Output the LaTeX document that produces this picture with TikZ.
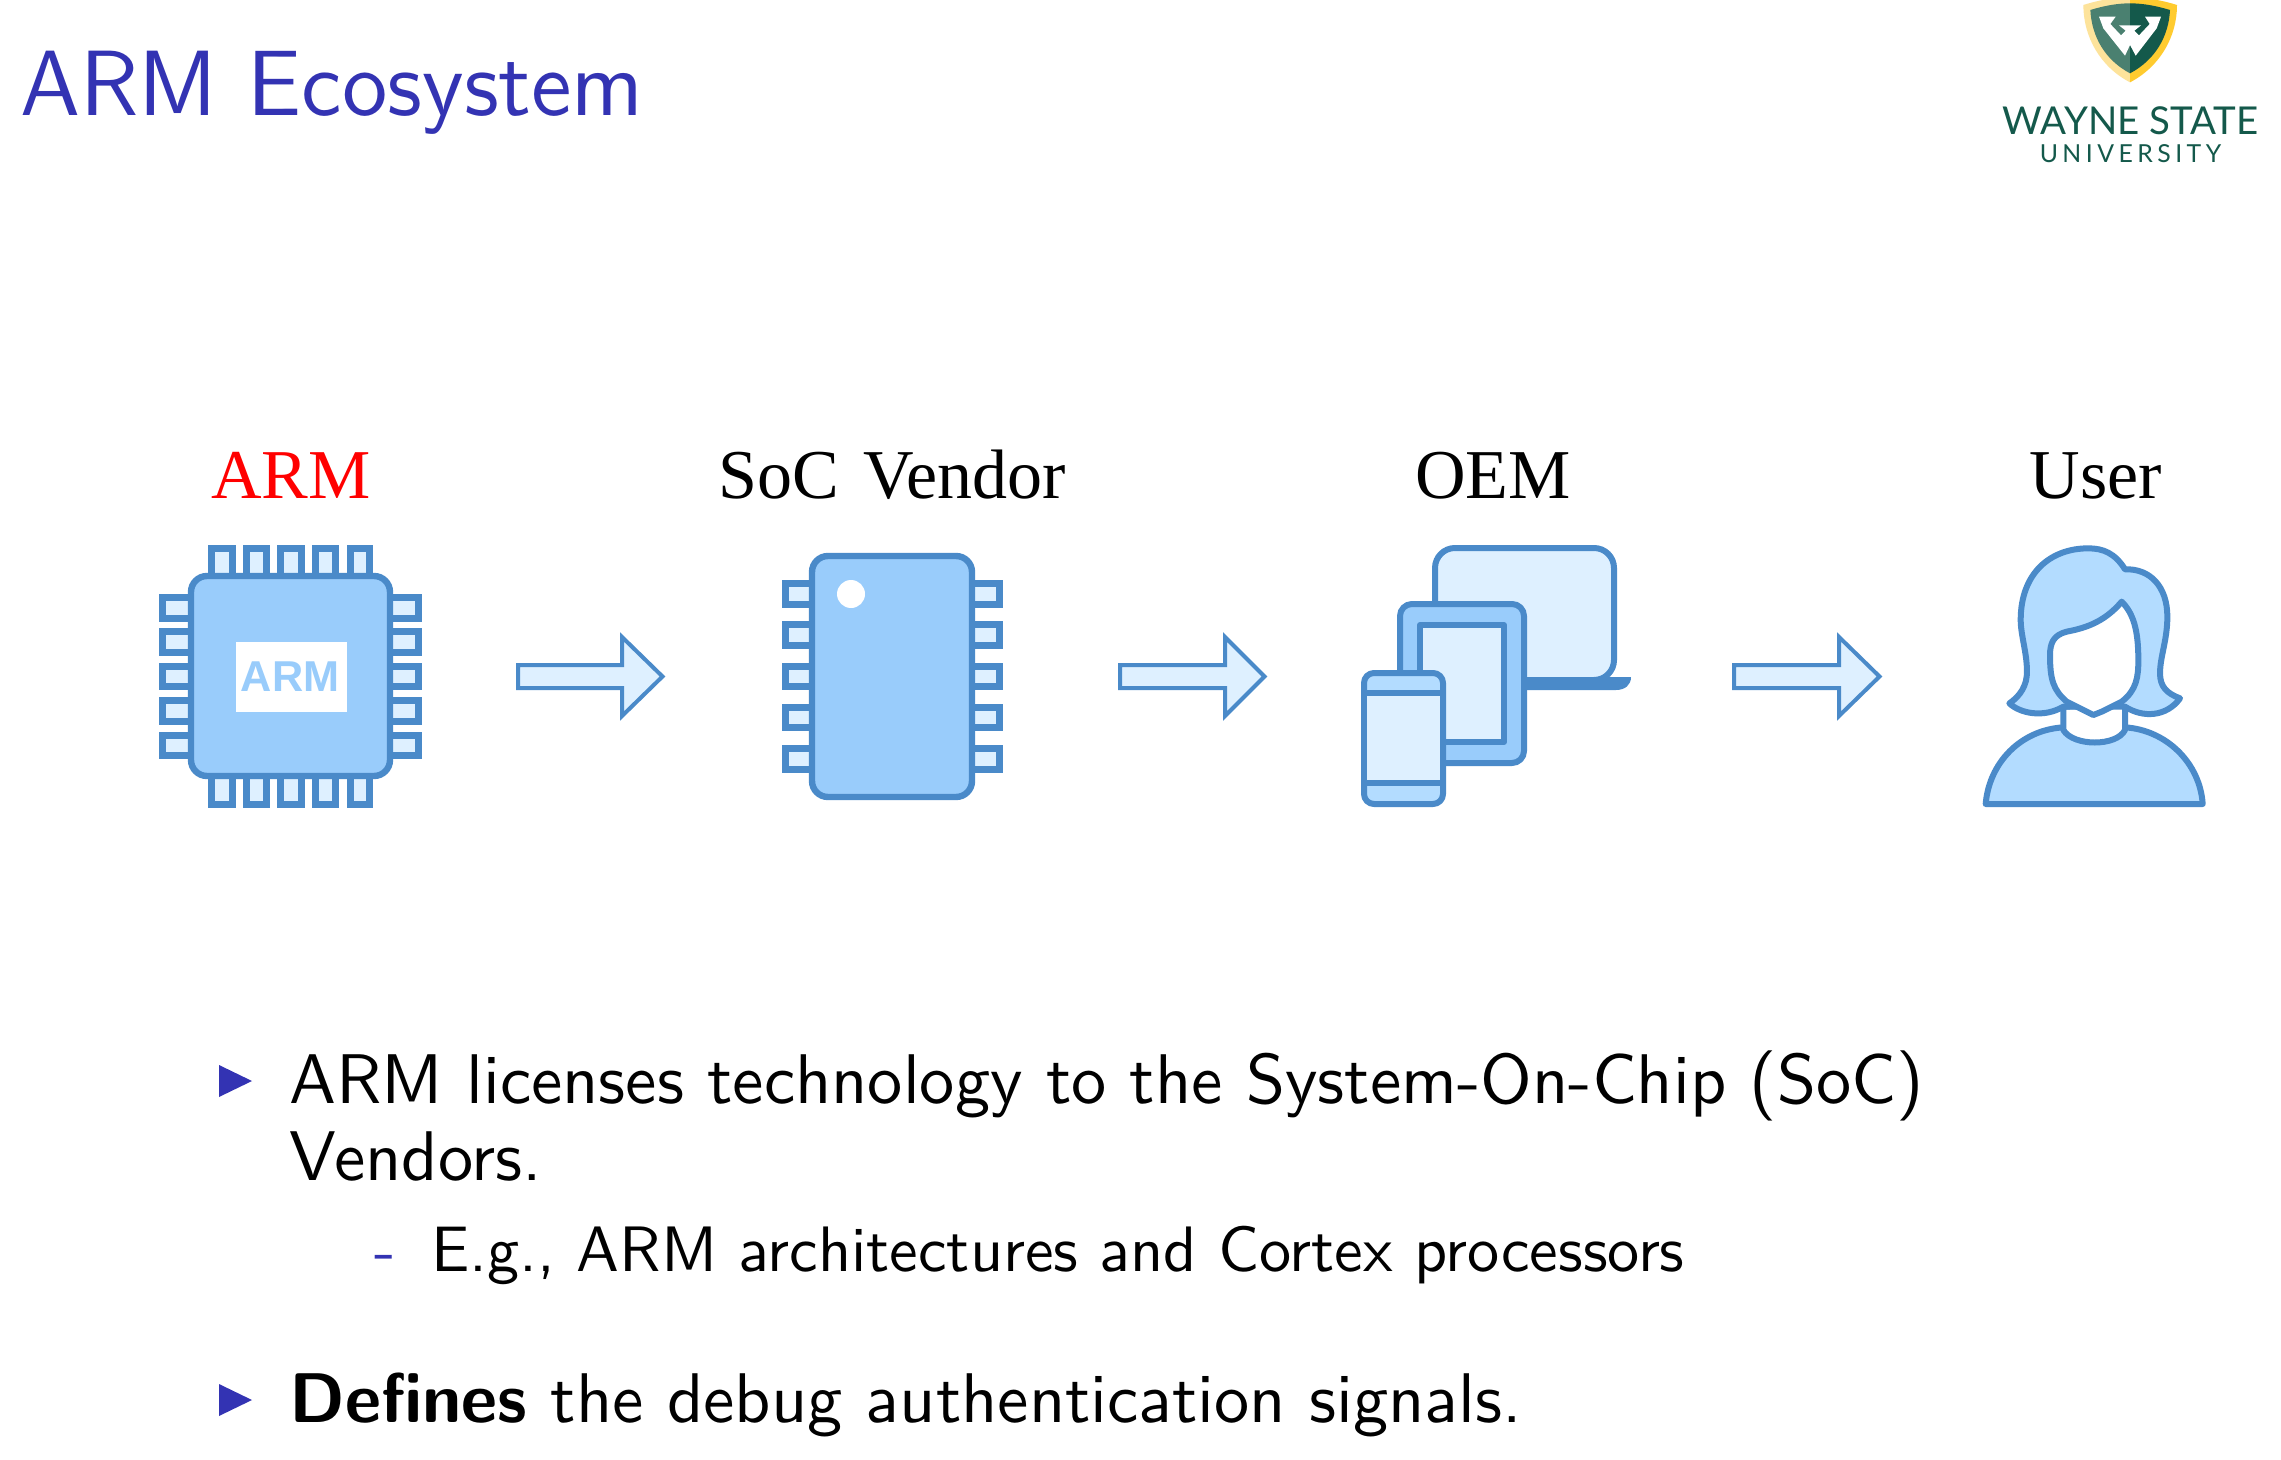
\documentclass[tikz,border=0pt]{standalone}
\usepackage{fontspec}
\newfontfamily\labelfont{Liberation Serif}
\newfontfamily\chipfont{Liberation Sans}
\newfontfamily\logofont{Lato}
\definecolor{beamerblue}{HTML}{3333B3}
\definecolor{iconline}{HTML}{4A8AC9}
\definecolor{iconfill}{HTML}{99CCFB}
\definecolor{iconlight}{HTML}{DEF0FF}
\definecolor{iconmid}{HTML}{B3DCFF}
\definecolor{wsugreen}{HTML}{14594B}
\definecolor{wsugreenl}{HTML}{4A8070}
\definecolor{wsugold}{HTML}{FFCB2F}
\definecolor{wsugoldl}{HTML}{FDE39B}
\newcommand{\bodytxt}[2]{\scalebox{#1}{\fontsize{10.95}{13}\selectfont\sffamily #2}}
\newcommand{\blockarrow}[3]{\draw[blockarrow] (#1,665) -- (#2,665) -- (#2,637) -- (#3,676.5) -- (#2,716) -- (#2,688) -- (#1,688) -- cycle;}
\newcommand{\pinbox}[4]{\draw[pinbox] ({#1+3.6},{#2+3.6}) rectangle ({#3-3.6},{#4-3.6});}
\newcommand{\bullettri}[1]{\fill[beamerblue] (219,{#1-16}) -- (252,{#1}) -- (219,{#1+16}) -- cycle;}
\tikzset{
  pinbox/.style={draw=iconline,fill=iconlight,line width=3.6pt},
  chipbody/.style={draw=iconline,fill=iconfill,line width=3.2pt,rounded corners=8pt},
  blockarrow/.style={draw=iconline,fill=iconlight,line width=2pt,line join=miter},
  iconpart/.style={draw=iconline,line width=3pt,line join=round},
  toptext/.style={anchor=base,inner sep=0pt,font=\labelfont\fontsize{35}{40}\selectfont},
  bodytext/.style={anchor=base west,inner sep=0pt},
}
\begin{document}
\begin{tikzpicture}[x=0.5pt,y=-0.5pt]
\useasboundingbox (0,0) rectangle (2281,1460);
\fill[white] (0,0) rectangle (2281,1460);
% title
\node[bodytext,text=beamerblue] (title) at (20,115.5) {\bodytxt{3.22}{\fontsize{14.4}{17}\selectfont ARM Ecosystem}};
% logo
\begin{scope}
\clip (1950,0) rectangle (2281,180);
\begin{scope}[shift={(1950,0)},x=0.16667pt,y=-0.16667pt]
  \fill[wsugoldl] (540,-8) .. controls (490,-8) and (440,2) .. (400,15) .. controls (400,110) and (450,200) .. (540,247) -- cycle;
  \fill[wsugold] (540,-8) .. controls (590,-8) and (640,2) .. (681,15) .. controls (681,110) and (630,200) .. (540,247) -- cycle;
  \fill[wsugreenl] (540,10) .. controls (500,10) and (460,18) .. (421,30) .. controls (425,110) and (465,180) .. (540,220) -- cycle;
  \fill[wsugreen] (540,10) .. controls (580,10) and (620,18) .. (660,30) .. controls (656,110) and (615,180) .. (540,220) -- cycle;
  \fill[white] (447,50) -- (497,50) -- (481,72) -- (513,106) -- (527,92) -- (507,76) -- (573,76) -- (553,92) -- (567,106) -- (599,72) -- (585,50) -- (633,50) -- (620,85) -- (557,167) -- (540,135) -- (525,167) -- (460,85) -- cycle;
\end{scope}
\end{scope}
\node[anchor=base,inner sep=0pt,text=wsugreen] (wsu) at (2130.5,134.5) {\logofont\fontsize{19.2}{21}\selectfont WAYNE STATE};
\node[anchor=base,inner sep=0pt,text=wsugreen] (univ) at (2130.5,162.5) {\logofont\addfontfeature{LetterSpace=18}\fontsize{12.4}{14}\selectfont UNIVERSITY};
% labels
\node[toptext,text=red] (lbarm) at (291,498.5) {ARM};
\node[toptext] (lbsoc) at (892,498.5) {SoC\hspace{3.5pt} Vendor};
\node[toptext] (lboem) at (1493,498.5) {OEM};
\node[toptext] (lbuser) at (2096,498.5) {User};
% ARM chip
\foreach \a/\b in {208/236,243/270,277/305,312/339,347/373}{
  \pinbox{\a}{545}{\b}{582}
  \pinbox{\a}{770}{\b}{808}
}
\foreach \a/\b in {594/622,628/656,663/690,697/725,732/759}{
  \pinbox{159}{\a}{197}{\b}
  \pinbox{384}{\a}{422}{\b}
}
\draw[chipbody] (191,576) rectangle (390,776);
\fill[white] (236,642) rectangle (347,712);
\node[anchor=center,inner sep=0pt,text=iconfill] (chiparm) at (290,677) {\chipfont\bfseries\fontsize{21.6}{25}\selectfont ARM};
\blockarrow{518}{622}{662.5}
% SoC chip
\foreach \a/\b in {580/608,621/649,663/690,704/731,745/773}{
  \pinbox{782}{\a}{818}{\b}
  \pinbox{966}{\a}{1003}{\b}
}
\draw[chipbody] (812,556) rectangle (972,797);
\fill[white] (851,594) circle[radius=14];
\blockarrow{1120}{1225}{1264.5}
% OEM devices
\fill[iconline] (1525,677) -- (1631,677) .. controls (1631,685) and (1625,690) .. (1616,690) -- (1525,690) -- cycle;
\draw[iconpart,fill=iconlight,rounded corners=10pt] (1435,680) -- (1435,548) -- (1614,548) -- (1614,680) -- cycle;
\fill[iconline] (1525,677) rectangle (1620,683);
\draw[iconpart,fill=iconfill,rounded corners=6pt] (1400,604) rectangle (1524,763);
\draw[iconpart,fill=iconlight] (1420,625) rectangle (1504,742);
\draw[iconpart,fill=iconmid,rounded corners=5pt] (1364,673) rectangle (1443,804);
\draw[iconpart,fill=iconlight] (1364,693) rectangle (1443,783);
\blockarrow{1734}{1839}{1879.5}
% user
\begin{scope}[shift={(1720,530)},x=0.16667pt,y=-0.16667pt]
  \draw[iconpart,fill=iconmid] (797,822) .. controls (807,700) and (900,600) .. (1030,592) .. controls (1060,650) and (1190,650) .. (1215,592) .. controls (1340,600) and (1440,700) .. (1448,822) -- cycle;
  \draw[iconpart,fill=white] (1030,530) -- (1030,600) .. controls (1060,650) and (1190,650) .. (1215,600) -- (1215,525) -- cycle;
  \draw[iconpart,fill=iconmid] (1215,118) .. controls (1185,70) and (1150,55) .. (1105,55) .. controls (990,55) and (902,130) .. (902,270) .. controls (902,320) and (925,380) .. (920,440) .. controls (915,480) and (890,505) .. (868,520) .. controls (900,550) and (970,565) .. (1030,530) -- (1215,530) .. controls (1270,565) and (1340,560) .. (1380,505) .. controls (1340,490) and (1320,470) .. (1320,430) .. controls (1320,380) and (1342,330) .. (1342,260) .. controls (1342,170) and (1290,115) .. (1215,118) -- cycle;
  \draw[iconpart,fill=white] (1205,215) .. controls (1150,280) and (1090,295) .. (1040,305) .. controls (1000,315) and (990,340) .. (990,375) .. controls (990,450) and (1000,480) .. (1040,515) -- (1100,545) -- (1120,555) -- (1145,545) -- (1205,515) .. controls (1250,480) and (1255,440) .. (1255,390) .. controls (1255,300) and (1240,250) .. (1205,215) -- cycle;
\end{scope}
% body text
\bullettri{1081}
\node[bodytext] (l1) at (289,1103.5) {\bodytxt{3.21}{ARM licenses technology to the System-On-Chip (SoC)}};
\node[bodytext] (l2) at (289,1180.5) {\bodytxt{3.21}{Vendors.}};
\node[bodytext,text=beamerblue] (dash) at (374,1271) {\bodytxt{3.21}{\fontsize{10}{12}\selectfont -}};
\node[bodytext] (l3) at (431,1271) {\bodytxt{3.21}{\fontsize{10}{12}\selectfont E.g., ARM architectures and Cortex processors}};
\bullettri{1400}
\node[bodytext] (l4) at (289,1422) {\bodytxt{3.21}{\textbf{Defines} the debug authentication signals.}};
\end{tikzpicture}
\end{document}
